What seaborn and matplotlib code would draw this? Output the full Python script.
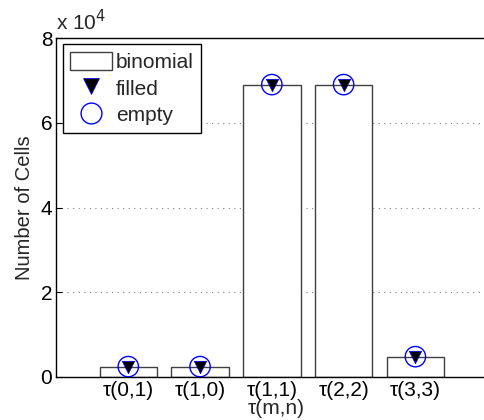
import pandas as pd
import matplotlib
matplotlib.use("Agg")
import matplotlib.pyplot as plt
import seaborn as sns
from matplotlib.lines import Line2D
from matplotlib.patches import Patch
from matplotlib.ticker import FuncFormatter

# values
labels = ["τ(0,1)", "τ(1,0)", "τ(1,1)", "τ(2,2)", "τ(3,3)"]
binomial = [2450, 2450, 69000, 69000, 4800]
filled = [2450, 2450, 69000, 69000, 4800]
empty = [2450, 2450, 69000, 69000, 4800]

df = pd.DataFrame({"label": labels, "binomial": binomial,
                   "filled": filled, "empty": empty})

sns.set_style("white")
plt.rcParams["font.family"] = ["Liberation Sans", "DejaVu Sans"]
fs = 15

fig = plt.figure(figsize=(4.85, 4.2), dpi=100)
# axes run a little past the right edge, like the cropped original
ax = fig.add_axes([56.5 / 485, 43 / 420, 440 / 485, 339 / 420])

sns.barplot(data=df, x="label", y="binomial", color="white", width=0.8,
            edgecolor="#404040", linewidth=1.0, ax=ax, zorder=2)
sns.scatterplot(data=df, x="label", y="empty", marker="o", s=215,
                facecolor="none", edgecolor="blue", linewidth=1.0,
                ax=ax, zorder=3)
sns.scatterplot(data=df, x="label", y="filled", marker="v", s=80,
                color="black", edgecolor="blue", linewidth=0.5,
                ax=ax, zorder=4)

ax.set_xlim(-1, 5.13)
ax.set_ylim(0, 80000)
ax.set_yticks([0, 20000, 40000, 60000, 80000])
ax.yaxis.set_major_formatter(FuncFormatter(lambda v, _: f"{v / 1e4:g}"))
ax.set_axisbelow(True)
ax.yaxis.grid(True, linestyle=(0, (1, 4)), color="#808080", linewidth=0.8)

ax.tick_params(axis="both", direction="in", length=4, labelsize=fs,
               colors="black", left=True, bottom=True, pad=3)
for s in ax.spines.values():
    s.set_color("black")
    s.set_linewidth(1.0)
ax.spines["right"].set_visible(False)

ax.set_xlabel("τ(m,n)", fontsize=fs, labelpad=-1)
ax.set_ylabel("Number of Cells", fontsize=fs - 0.5, labelpad=5)
ax.text(0.0, 1.01, "x 10$^4$", transform=ax.transAxes, fontsize=fs,
        ha="left", va="bottom")

handles = [
    Patch(facecolor="white", edgecolor="#404040", linewidth=1.0),
    Line2D([], [], linestyle="none", marker="v", markersize=12,
           markerfacecolor="black", markeredgecolor="blue", markeredgewidth=0.5),
    Line2D([], [], linestyle="none", marker="o", markersize=15,
           markerfacecolor="none", markeredgecolor="blue", markeredgewidth=1.0),
]
leg = ax.legend(handles, ["binomial", "filled", "empty"], loc="upper left",
                fontsize=fs, frameon=True, fancybox=False, framealpha=1,
                edgecolor="black", borderaxespad=0.3, handlelength=2.0,
                handleheight=1.0, labelspacing=0.3, handletextpad=0.2,
                borderpad=0.35)
leg.get_frame().set_linewidth(1.0)

fig.savefig("out.png", dpi=100)
